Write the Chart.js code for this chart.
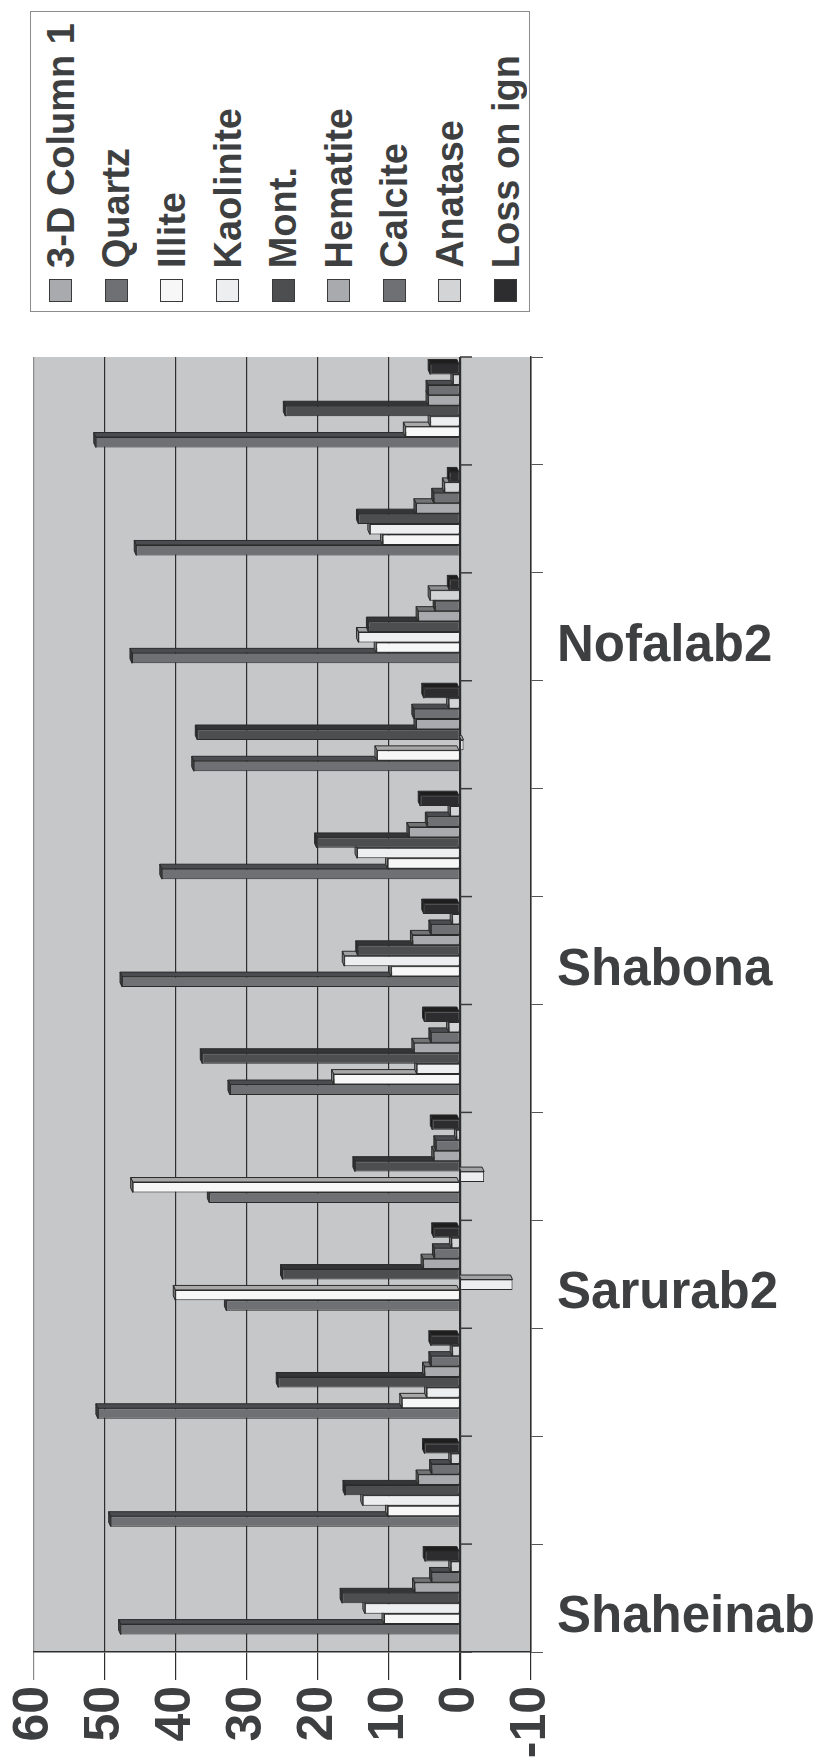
<!DOCTYPE html>
<html>
<head>
<meta charset="utf-8">
<script src="https://cdn.jsdelivr.net/npm/chart.js@4.4.1/dist/chart.umd.min.js"></script>
<style>
  html, body { margin: 0; padding: 0; background: #ffffff; }
  #wrap { position: relative; width: 818px; height: 1760px; overflow: hidden; }
  #chart { position: absolute; left: 0; top: 0; }
  #legend {
    position: absolute; left: 30px; top: 11px; width: 498px; height: 299px;
    border: 1px solid #8c8c8c; background: #ffffff;
  }
  .swatch { position: absolute; width: 23px; height: 23px; box-sizing: border-box; border: 1px solid #3a3a3a; }
  .ltext {
    position: absolute; writing-mode: vertical-rl; transform: rotate(180deg);
    font: bold 38px "Liberation Sans", Arial, sans-serif; color: #3e3f41;
    line-height: 40px; width: 40px; white-space: nowrap;
  }
</style>
</head>
<body>
<div id="wrap">
  <canvas id="chart" width="818" height="1760"></canvas>
  <div id="legend"></div>
</div>
<script>
// Sample groups, listed from the top of the chart to the bottom.
const categories = ['', '', 'Nofalab2', '', '', 'Shabona', '', '', 'Sarurab2', '', '', 'Shaheinab'];

// Mineral contents (%) for each sample group, same order as categories.
const column1   = [null, null, null, null, null, null, null, null, null, null, null, null];
const quartz    = [51.3, 45.6, 46.2, 37.5, 42.0, 47.6, 32.4, 35.3, 32.9, 51.0, 49.2, 47.8];
const illite    = [7.7, 10.9, 11.8, 11.7, 10.2, 9.7, 17.8, 46.1, 40.1, 8.2, 10.2, 10.7];
const kaolinite = [4.2, 12.7, 14.3, -0.5, 14.5, 16.3, 6.1, -3.4, -7.4, 4.7, 13.7, 13.4];
const mont      = [24.6, 14.3, 12.9, 37.0, 20.2, 14.4, 36.3, 14.8, 25.0, 25.6, 16.2, 16.6];
const hematite  = [4.5, 6.2, 5.9, 6.2, 7.2, 6.7, 6.5, 3.7, 5.2, 5.0, 5.9, 6.4];
const calcite   = [4.5, 3.7, 3.5, 6.5, 4.6, 4.1, 4.1, 3.4, 3.6, 4.1, 4.0, 4.0];
const anatase   = [1.0, 2.2, 4.2, 1.6, 1.4, 1.1, 1.6, 0.5, 1.2, 1.1, 1.3, 1.3];
const lossOnIgn = [4.2, 1.5, 1.5, 5.1, 5.6, 5.1, 5.0, 3.9, 3.7, 4.1, 5.0, 4.9];

// Value axis range and tick step.
const axisMin = -10;
const axisMax = 60;
const axisStep = 10;

// Series in legend order.
const seriesNames = ['3-D Column 1', 'Quartz', 'Illite', 'Kaolinite', 'Mont.', 'Hematite', 'Calcite', 'Anatase', 'Loss on ign'];
const seriesData  = [column1, quartz, illite, kaolinite, mont, hematite, calcite, anatase, lossOnIgn];
const seriesFill  = ['#a9aaad', '#6f7074', '#f7f7f7', '#eceef0', '#4d4e50', '#a9aaad', '#6f7074', '#d3d4d6', '#2d2c2e'];

function shade(hex, f) {
  const n = parseInt(hex.slice(1), 16);
  const r = Math.round(((n >> 16) & 255) * f), g = Math.round(((n >> 8) & 255) * f), b = Math.round((n & 255) * f);
  return 'rgb(' + r + ',' + g + ',' + b + ')';
}

// Within a group the last series sits on top, so the datasets go in reverse legend order.
const datasets = seriesNames.map((name, i) => ({
  label: name,
  data: seriesData[i],
  backgroundColor: seriesFill[i],
  borderColor: '#2b2b2b',
  borderWidth: 1,
  topColor: shade(seriesFill[i], 0.68),
  sideColor: shade(seriesFill[i], 0.55),
})).reverse();

// Depth faces on top of and at the end of each bar.
const depthFaces = {
  id: 'depthFaces',
  afterDatasetDraw(chart, args) {
    const ctx = chart.ctx;
    const ds = chart.data.datasets[args.index];
    const dx = 2, dy = 4.5;
    ctx.save();
    ctx.lineWidth = 1;
    ctx.strokeStyle = '#2b2b2b';
    args.meta.data.forEach((bar, i) => {
      const v = ds.data[i];
      if (v === null || v === 0) return;
      const p = bar.getProps(['x', 'y', 'base', 'height'], true);
      const l = Math.min(p.x, p.base), r = Math.max(p.x, p.base);
      const t = p.y - p.height / 2, b = p.y + p.height / 2;
      ctx.fillStyle = ds.topColor;
      ctx.beginPath();
      ctx.moveTo(l, t); ctx.lineTo(r, t); ctx.lineTo(r - dx, t - dy); ctx.lineTo(l - dx, t - dy);
      ctx.closePath(); ctx.fill(); ctx.stroke();
      if (v > 0) {
        ctx.fillStyle = ds.sideColor;
        ctx.beginPath();
        ctx.moveTo(l, t); ctx.lineTo(l, b); ctx.lineTo(l - dx, b - dy); ctx.lineTo(l - dx, t - dy);
        ctx.closePath(); ctx.fill(); ctx.stroke();
      }
    });
    ctx.restore();
  }
};

// Grey wall behind the plot.
const plotWall = {
  id: 'plotWall',
  beforeDraw(chart) {
    const a = chart.chartArea, ctx = chart.ctx;
    ctx.save();
    ctx.fillStyle = '#c6c7c9';
    ctx.fillRect(a.left, a.top, a.right - a.left, a.bottom - a.top);
    ctx.restore();
  }
};

// Short marks on the zero line at every group boundary (the floor edge).
const floorTicks = {
  id: 'floorTicks',
  afterDatasetsDraw(chart) {
    const ctx = chart.ctx, xs = chart.scales.x, ys = chart.scales.y;
    const x0 = xs.getPixelForValue(0);
    ctx.save();
    ctx.strokeStyle = '#3a3a3a';
    ctx.lineWidth = 1.5;
    for (let i = 0; i <= categories.length; i++) {
      const y = ys.getPixelForValue(i - 0.5);
      ctx.beginPath();
      ctx.moveTo(x0, y);
      ctx.lineTo(x0 + 12, y);
      ctx.stroke();
    }
    ctx.restore();
  }
};

const fontFamily = '"Liberation Sans", Arial, sans-serif';
const textColor = '#3e3f41';

new Chart(document.getElementById('chart'), {
  type: 'bar',
  data: { labels: categories, datasets: datasets },
  plugins: [plotWall, depthFaces, floorTicks],
  options: {
    indexAxis: 'y',
    responsive: false,
    animation: false,
    devicePixelRatio: 1,
    categoryPercentage: 0.87,
    barPercentage: 1.0,
    layout: { padding: { top: 357, left: 34, right: 0, bottom: 0 } },
    plugins: { legend: { display: false }, tooltip: { enabled: false } },
    scales: {
      x: {
        type: 'linear',
        min: axisMin,
        max: axisMax,
        reverse: true,
        position: 'bottom',
        afterFit(scale) { scale.height = 108; scale.paddingLeft = 0; scale.paddingRight = 0; },
        border: { display: true, color: '#2e2e2e', width: 1.5 },
        grid: {
          color: (c) => (c.tick && c.tick.value === axisMax ? '#8a8a8a' : '#2e2e2e'),
          lineWidth: (c) => (c.tick && c.tick.value === 0 ? 2.2 : 1.2),
          drawTicks: true,
          tickLength: 28,
        },
        ticks: {
          stepSize: axisStep,
          minRotation: 90,
          maxRotation: 90,
          padding: 6,
          color: textColor,
          font: { family: fontFamily, size: 50, weight: 'bold' },
        },
      },
      y: {
        type: 'category',
        position: 'right',
        afterFit(scale) { scale.width = 287; scale.paddingTop = 0; scale.paddingBottom = 0; },
        border: { display: true, color: '#2e2e2e', width: 1.5 },
        grid: { drawOnChartArea: false, drawTicks: true, tickLength: 12, color: '#555555', offset: true },
        ticks: {
          autoSkip: false,
          padding: 14,
          labelOffset: 20,
          color: textColor,
          font: { family: fontFamily, size: 51, weight: 'bold' },
        },
      },
    },
  },
});

// Legend: one column per series, text reading upwards above its swatch.
const legend = document.getElementById('legend');
seriesNames.forEach((name, i) => {
  const cx = 29.7 + i * 55.6;
  const sw = document.createElement('div');
  sw.className = 'swatch';
  sw.style.left = (cx - 11.5) + 'px';
  sw.style.top = '267px';
  sw.style.background = seriesFill[i];
  legend.appendChild(sw);
  const tx = document.createElement('div');
  tx.className = 'ltext';
  tx.textContent = name;
  tx.style.left = (cx - 20) + 'px';
  tx.style.bottom = (299 - 256) + 'px';
  legend.appendChild(tx);
});
</script>
</body>
</html>
